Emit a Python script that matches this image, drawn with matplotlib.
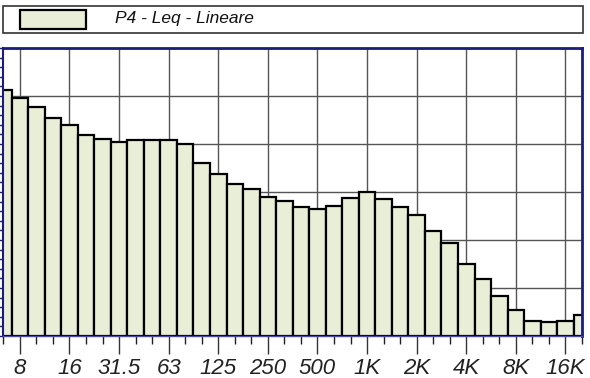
from matplotlib import pyplot as plt
from matplotlib.patches import Rectangle
import numpy as np

# 1/3 octave bands, 6.3 Hz .. 20 kHz
bands = ['6.3', '8', '10', '12.5', '16', '20', '25', '31.5', '40', '50',
         '63', '80', '100', '125', '160', '200', '250', '315', '400', '500',
         '630', '800', '1K', '1.25K', '1.6K', '2K', '2.5K', '3.15K', '4K',
         '5K', '6.3K', '8K', '10K', '12.5K', '16K', '20K']
leq = [71.3, 69.6, 67.8, 65.4, 64.0, 61.9, 61.0, 60.4, 60.8, 60.8,
       60.8, 60.1, 56.0, 53.8, 51.6, 50.6, 49.0, 48.1, 46.8, 46.5,
       47.1, 48.7, 49.9, 48.5, 46.8, 45.2, 41.9, 39.4, 35.0, 31.9,
       28.4, 25.4, 23.1, 22.9, 23.2, 24.4]
octave_labels = ['8', '16', '31.5', '63', '125', '250', '500',
                 '1K', '2K', '4K', '8K', '16K']
series_name = 'P4 - Leq - Lineare'

FILL = '#e9eed6'
NAVY = '#1c1c7a'
GRID = '#555555'


def plot():
    fig = plt.figure(figsize=(5.9, 3.78), dpi=100)
    ax = fig.add_axes([3 / 590, 42 / 378, 579 / 590, 288 / 378])

    x = np.arange(len(bands))
    ax.bar(x, np.array(leq) - 20, bottom=20, width=1.0, color=FILL,
           edgecolor='black', linewidth=1.6, zorder=2)

    ax.set_xlim(-0.02, 34.95)
    ax.set_ylim(20, 80)

    major = [bands.index(b) for b in octave_labels]
    ax.set_xticks(major)
    ax.set_xticklabels(octave_labels, fontstyle='italic', fontsize=16,
                       family=['Liberation Sans', 'DejaVu Sans'],
                       color='#222222')
    ax.set_xticks(x, minor=True)
    ax.tick_params(axis='x', which='major', length=13, width=1,
                   color='#333333', pad=3)
    ax.tick_params(axis='x', which='minor', length=6, width=1,
                   color='#222222')

    ax.set_yticks(np.arange(20, 81, 10))
    ax.set_yticks(np.arange(20, 81, 2), minor=True)
    ax.set_yticklabels([])
    ax.tick_params(axis='y', which='both', length=3, width=1, color=NAVY)

    ax.set_axisbelow(True)
    ax.grid(True, which='major', color=GRID, linewidth=1.0)

    for side in ('top', 'right'):
        ax.spines[side].set_color(NAVY)
        ax.spines[side].set_linewidth(2.0)
    ax.spines['left'].set_color(NAVY)
    ax.spines['left'].set_linewidth(1.5)
    ax.spines['bottom'].set_color('#4a4aa8')
    ax.spines['bottom'].set_linewidth(1.0)

    # legend strip above the plot
    fig.patches.append(Rectangle((3 / 590, 1 - 33 / 378), 580 / 590, 27 / 378,
                                 transform=fig.transFigure, facecolor='white',
                                 edgecolor='#333333', linewidth=1.2))
    fig.patches.append(Rectangle((20 / 590, 1 - 29 / 378), 66 / 590, 19 / 378,
                                 transform=fig.transFigure, facecolor=FILL,
                                 edgecolor='black', linewidth=1.6))
    fig.text(115 / 590, 1 - 19 / 378, series_name, fontsize=12.5,
             fontstyle='italic', family=['Liberation Sans', 'DejaVu Sans'],
             va='center', ha='left', color='#111111')

    fig.savefig('out.png', dpi=100)


if __name__ == '__main__':
    plot()
